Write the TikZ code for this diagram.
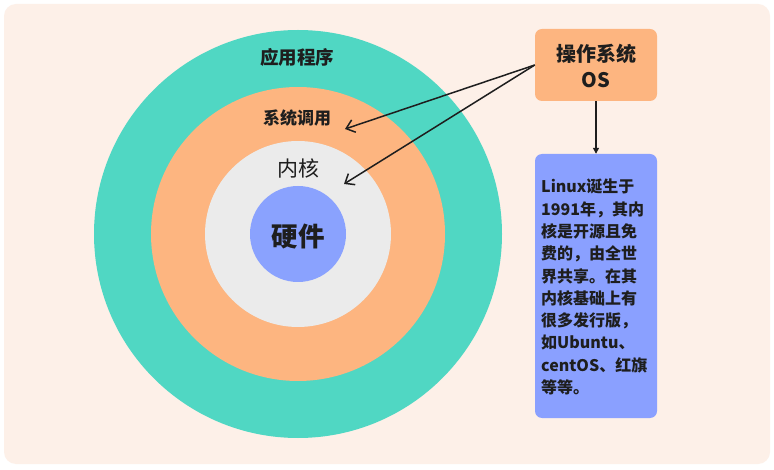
\documentclass[tikz,border=0pt]{standalone}
\usepackage{fontspec}
\setmainfont{Noto Sans CJK SC}
\usetikzlibrary{arrows.meta}
\definecolor{bgc}{HTML}{FDF0E8}
\definecolor{tealc}{HTML}{50D7C3}
\definecolor{orangec}{HTML}{FDB580}
\definecolor{greyc}{HTML}{EBEBEB}
\definecolor{bluec}{HTML}{8AA2FE}
\definecolor{boxblue}{HTML}{8AA0FF}
\definecolor{inkc}{HTML}{1E1E1E}
\tikzset{
  ring/.style={circle, inner sep=0pt, draw=none},
  box/.style={rounded corners=7pt, inner sep=0pt, draw=none},
  lbl/.style={inner sep=0pt, text=inkc},
  pointer/.style={draw=inkc, line width=1.5pt, -{Straight Barb[length=8pt,width=13pt,line width=1.5pt]}},
  down/.style={draw=inkc, line width=1.3pt, -{Triangle[length=6pt,width=6pt]}}
}
\begin{document}
\begin{tikzpicture}[x=1pt,y=-1pt]
\useasboundingbox (0,0) rectangle (774,470);
\fill[white] (0,0) rectangle (774,470);
\fill[bgc, rounded corners=12pt] (4,4) rectangle (770,464);
% rings
\node[ring, fill=tealc, minimum size=408pt] (app) at (298,234) {};
\node[ring, fill=orangec, minimum size=294pt] (sys) at (298,234) {};
\node[ring, fill=greyc, minimum size=186pt] (ker) at (298,234) {};
\node[ring, fill=bluec, minimum size=96pt] (hw) at (298,234) {};
% labels
\node[lbl, font=\bfseries\fontsize{18.5}{22}\selectfont] (tapp) at (297,57) {应用程序};
\node[lbl, font=\bfseries\fontsize{17}{20}\selectfont] (tsys) at (297,118) {系统调用};
\node[lbl, font=\fontsize{21}{24}\selectfont] (tker) at (298,169) {内核};
\node[lbl, font=\bfseries\fontsize{26.5}{30}\selectfont] (thw) at (298,237) {硬件};
% OS box
\node[box, fill=orangec, minimum width=122pt, minimum height=72pt] (os) at (596,65) {};
\node[lbl, font=\bfseries\fontsize{20}{26}\selectfont, align=center] (tos) at (596,66) {操作系统\\OS};
% info box
\node[box, fill=boxblue, minimum width=122pt, minimum height=264pt] (info) at (596,286) {};
\node[lbl, font=\bfseries\fontsize{16}{22.3}\selectfont, align=left, anchor=north west] (tinfo) at (541,179)
 {Linux诞生于\\1991年，其内\\核是开源且免\\费的，由全世\\界共享。在其\\内核基础上有\\很多发行版，\\如Ubuntu、\\centOS、红旗\\等等。};
% arrows
\coordinate (psys) at (345,129);
\coordinate (pker) at (344,184);
\draw[pointer] (os.west) -- (psys);
\draw[pointer] (os.west) -- (pker);
\draw[down] (os.south) -- (info.north);
\end{tikzpicture}
\end{document}
